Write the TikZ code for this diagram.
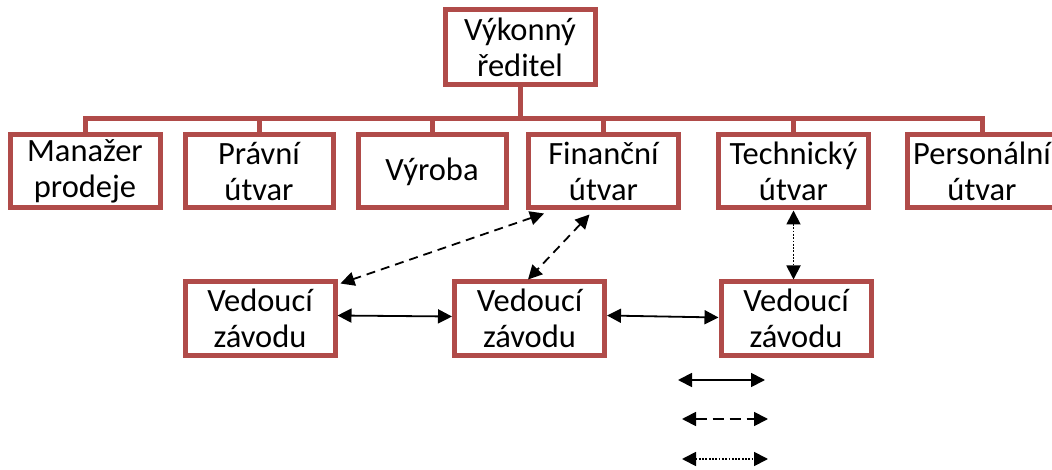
\documentclass[tikz,border=0pt]{standalone}
\usepackage{fontspec}
\setmainfont{Carlito}
\usetikzlibrary{arrows.meta,calc}
\definecolor{boxred}{HTML}{B04B49}
\tikzset{
  orgbox/.style={draw=boxred, line width=5pt, fill=white, minimum width=150pt, minimum height=73pt,
    inner sep=0pt, align=center, font=\fontsize{32.5}{36}\selectfont},
  tree/.style={draw=boxred, line width=5pt},
  link/.style={line width=1.8pt, {Triangle[length=14pt,width=14pt]}-{Triangle[length=14pt,width=14pt]}},
  dashlink/.style={link, dash pattern=on 9pt off 6pt},
  dotlink/.style={link, dash pattern=on 1.8pt off 1.5pt}
}
\begin{document}
\begin{tikzpicture}[x=1pt,y=-1pt]
\useasboundingbox (0,0) rectangle (1052,470);
\clip (0,0) rectangle (1052,470);
\fill[white] (0,0) rectangle (1052,470);
\coordinate (bar) at (0,119);
\node[orgbox, minimum height=75pt] (top) at (520,47.5) {Výkonný\\ředitel};
\node[orgbox] (mp) at (85,171.5) {Manažer\\prodeje};
\node[orgbox, minimum width=148pt] (pu) at (259,171.5) {Právní\\útvar};
\node[orgbox, minimum width=148pt] (vy) at (432,171.5) {Výroba};
\node[orgbox] (fu) at (603.5,171.5) {Finanční\\útvar};
\node[orgbox] (tu) at (793.5,171.5) {Technický\\útvar};
\node[orgbox] (pe) at (982,171.5) {Personální\\útvar};
\node[orgbox] (v1) at (260,318.5) {Vedoucí\\závodu};
\node[orgbox] (v2) at (529.5,318.5) {Vedoucí\\závodu};
\node[orgbox] (v3) at (796,318.5) {Vedoucí\\závodu};
% tree
\draw[tree] (top.south) -- (top.south |- bar);
\draw[tree, line cap=rect] (mp.north |- bar) -- (pe.north |- bar);
\foreach \n in {mp,pu,vy,fu,tu,pe} \draw[tree] (\n.north |- bar) -- (\n.north);
% links
\draw[link] ([yshift=3pt]v1.east) -- ([yshift=2pt]v2.west);
\draw[link] ([yshift=3pt]v2.east) -- ([yshift=1pt]v3.west);
\draw[dashlink] ([shift={(18pt,-3pt)}]fu.south west) -- ([shift={(3pt,-4pt)}]v1.north east);
\draw[dashlink] ([shift={(-14pt,-4pt)}]fu.south) -- ([xshift=-1.5pt]v2.north);
\draw[dotlink] (tu.south) -- (tu.south |- v3.north);
% legend
\coordinate (la1) at (678,380); \coordinate (lb1) at (765,380);
\coordinate (la2) at (682,419); \coordinate (lb2) at (768,419);
\coordinate (la3) at (682,459); \coordinate (lb3) at (768,459);
\draw[link] (la1) -- (lb1);
\draw[dashlink, dash pattern=on 11pt off 6pt] (la2) -- (lb2);
\draw[dotlink] (la3) -- (lb3);
\end{tikzpicture}
\end{document}
